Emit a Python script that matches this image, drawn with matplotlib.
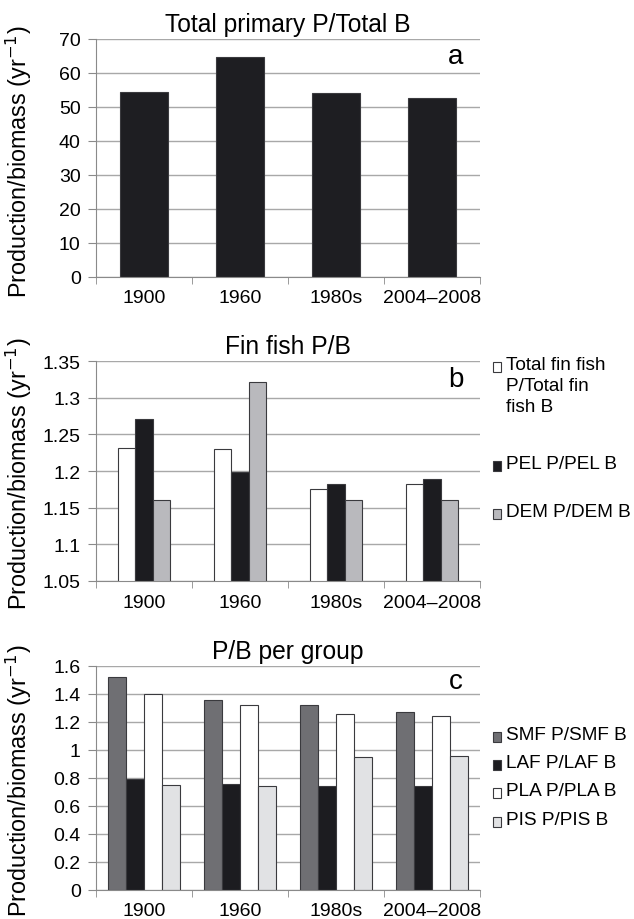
import numpy as np
import matplotlib
matplotlib.use('Agg')
import matplotlib.pyplot as plt
from matplotlib.patches import Rectangle

plt.rcParams['font.family'] = ['Liberation Sans', 'DejaVu Sans']

# data
periods = ['1900', '1960', '1980s', '2004\u20132008']

total_pb = [54.5, 64.8, 54.2, 52.7]

fin_total = [1.232, 1.230, 1.175, 1.182]
fin_pel = [1.271, 1.199, 1.182, 1.189]
fin_dem = [1.160, 1.321, 1.161, 1.161]

smf = [1.52, 1.36, 1.32, 1.27]
laf = [0.79, 0.76, 0.74, 0.74]
pla = [1.40, 1.32, 1.26, 1.24]
pis = [0.75, 0.74, 0.95, 0.96]

fin_labels = ['Total fin fish\nP/Total fin\nfish B', 'PEL P/PEL B', 'DEM P/DEM B']
group_labels = ['SMF P/SMF B', 'LAF P/LAF B', 'PLA P/PLA B', 'PIS P/PIS B']

EDGE = '#3a3a3e'
GRID = '#a8a8a8'
YLABEL = 'Production/biomass (yr$^{\u22121}$)'
FS = 14
LEG_FS = 13.7

W_PX, H_PX = 634, 920
fig = plt.figure(figsize=(W_PX / 100, H_PX / 100), dpi=100)


def px_axes(left, top, right, bottom):
    return fig.add_axes([left / W_PX, 1 - bottom / H_PX,
                         (right - left) / W_PX, (bottom - top) / H_PX])


def style_axes(ax, ylim, yticks, yticklabels, title, letter, letter_y):
    ax.set_xlim(-0.5, len(periods) - 0.5)
    ax.set_ylim(*ylim)
    ax.set_yticks(yticks)
    ax.set_yticklabels(yticklabels, fontsize=FS)
    ax.yaxis.grid(True, color=GRID, lw=1.0)
    ax.set_axisbelow(True)
    for s in ['top', 'right']:
        ax.spines[s].set_visible(False)
    for s in ['left', 'bottom']:
        ax.spines[s].set_color('#8a8a8a')
    # category labels centred, tick marks on boundaries
    ax.set_xticks(np.arange(len(periods)))
    ax.set_xticklabels(periods, fontsize=FS)
    ax.tick_params(axis='x', length=0, pad=9)
    ax.set_xticks(np.arange(len(periods) + 1) - 0.5, minor=True)
    ax.tick_params(axis='x', which='minor', length=5, color='#8a8a8a')
    ax.tick_params(axis='y', length=6, color='#8a8a8a', pad=5)
    ax.set_title(title, fontsize=17.7, pad=6)
    ax.set_ylabel(YLABEL, fontsize=16.8)
    ax.yaxis.set_label_coords(-0.162, 0.49)
    ax.text(0.956, letter_y, letter, transform=ax.transAxes, fontsize=20,
            ha='right', va='center')


def legend_entry(x, y, color, text):
    # x, y in figure pixels (square left edge, first-line centre)
    fig.patches.append(Rectangle((x / W_PX, 1 - (y + 5) / H_PX), 8 / W_PX, 10 / H_PX,
                                 transform=fig.transFigure, facecolor=color,
                                 edgecolor=EDGE, lw=0.8))
    fig.text((x + 13) / W_PX, 1 - (y - 11) / H_PX, text, fontsize=LEG_FS, va='top',
             ha='left', linespacing=1.32, transform=fig.transFigure)


x = np.arange(len(periods))

# panel a
ax1 = px_axes(96, 40, 480, 278)
ax1.bar(x, total_pb, width=0.5, color='#1e1e22', edgecolor=EDGE, lw=0.8)
style_axes(ax1, (0, 70), np.arange(0, 71, 10), [str(v) for v in range(0, 71, 10)],
           'Total primary P/Total B', 'a', 0.93)

# panel b
ax2 = px_axes(96, 362, 480, 582)
bw = 0.18
fin_series = [fin_total, fin_pel, fin_dem]
fin_colors = ['white', '#1c1c20', '#b9b9bd']
for i, (vals, c) in enumerate(zip(fin_series, fin_colors)):
    ax2.bar(x + (i - 1) * bw, vals, width=bw, color=c, edgecolor=EDGE, lw=0.8)
b_ticks = [1.05, 1.1, 1.15, 1.2, 1.25, 1.3, 1.35]
style_axes(ax2, (1.05, 1.35), b_ticks, ['1.05', '1.1', '1.15', '1.2', '1.25', '1.3', '1.35'],
           'Fin fish P/B', 'b', 0.92)

# panel c
ax3 = px_axes(96, 667, 480, 891)
cw = 0.19
grp_series = [smf, laf, pla, pis]
grp_colors = ['#6f6f73', '#1c1c20', 'white', '#e1e2e4']
for i, (vals, c) in enumerate(zip(grp_series, grp_colors)):
    ax3.bar(x + (i - 1.5) * cw, vals, width=cw, color=c, edgecolor=EDGE, lw=0.8)
c_ticks = [0, 0.2, 0.4, 0.6, 0.8, 1.0, 1.2, 1.4, 1.6]
style_axes(ax3, (0, 1.6), c_ticks, ['0', '0.2', '0.4', '0.6', '0.8', '1', '1.2', '1.4', '1.6'],
           'P/B per group', 'c', 0.935)

# legends
for yy, c, t in zip([368, 467, 515], fin_colors, fin_labels):
    legend_entry(493, yy, c, t)
for yy, c, t in zip([738, 766, 794, 823], grp_colors, group_labels):
    legend_entry(493, yy, c, t)

fig.savefig('out.png', dpi=100)
